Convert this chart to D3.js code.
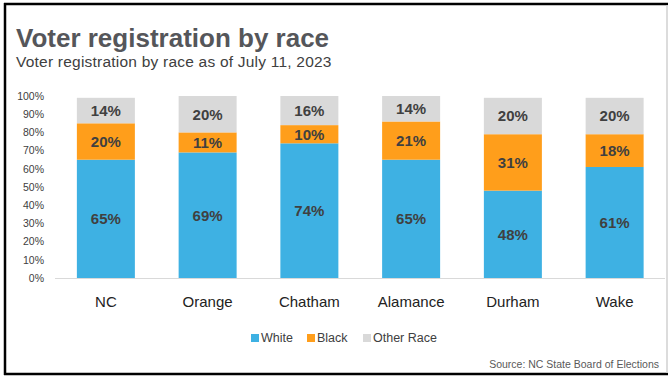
<!DOCTYPE html>
<html><head><meta charset="utf-8">
<script src="https://cdn.jsdelivr.net/npm/d3@7"></script>
<style>
body{margin:0;background:#fff;}
svg{display:block;}
text{font-family:"Liberation Sans",Arial,sans-serif;}
</style></head>
<body><svg id="c" width="670" height="376"></svg>
<script>
const categories = ["NC","Orange","Chatham","Alamance","Durham","Wake"];
const white = [65,69,74,65,48,61];
const black = [20,11,10,21,31,18];
const other = [14,20,16,14,20,20];
const seriesNames = ["White","Black","Other Race"];
const seriesColors = ["#3EB1E3","#FF9E1B","#D9D9D9"];
const yTicks = [0,10,20,30,40,50,60,70,80,90,100];

const svg = d3.select("#c");
// border
svg.append("line").attr("x1",4).attr("x2",668).attr("y1",4).attr("y2",4).attr("stroke","#000").attr("stroke-width",2.5);
svg.append("line").attr("x1",5).attr("x2",5).attr("y1",3).attr("y2",375).attr("stroke","#000").attr("stroke-width",2.5);
svg.append("line").attr("x1",4).attr("x2",668).attr("y1",374).attr("y2",374).attr("stroke","#000").attr("stroke-width",2.5);
svg.append("line").attr("x1",667).attr("x2",667).attr("y1",5).attr("y2",373).attr("stroke","#d0d0d0").attr("stroke-width",1.5);

svg.append("text").attr("x",16).attr("y",47).attr("font-size",26).attr("font-weight","bold")
  .attr("fill","#55565A").text("Voter registration by race");
svg.append("text").attr("x",16).attr("y",67).attr("font-size",15.5).attr("letter-spacing",0.22)
  .attr("fill","#404040").text("Voter registration by race as of July 11, 2023");

const x = d3.scaleBand().domain(categories).range([55,665.5]).paddingInner(0.43).paddingOuter(0.215);
const y = d3.scaleLinear().domain([0,100]).range([278,96]);

const data = categories.map((c,i)=>({cat:c,"White":white[i],"Black":black[i],"Other Race":other[i]}));
const stack = d3.stack().keys(seriesNames)(data);

// y axis
const yAxis = d3.axisLeft(y).tickValues(yTicks).tickFormat(d=>d+"%").tickSize(0).tickPadding(0);
const ga = svg.append("g").attr("transform","translate(44,0)").call(yAxis);
ga.select(".domain").remove();
ga.selectAll("text").attr("font-size",10.5).attr("fill","#404040").attr("font-family","'Liberation Sans',Arial,sans-serif");

stack.forEach((s,si)=>{
  const g = svg.append("g");
  g.selectAll("rect").data(s).join("rect")
    .attr("x",d=>x(d.data.cat)).attr("width",x.bandwidth())
    .attr("y",d=>y(d[1])).attr("height",d=>y(d[0])-y(d[1]))
    .attr("fill",seriesColors[si]);
  g.selectAll("text").data(s).join("text")
    .attr("x",d=>x(d.data.cat)+x.bandwidth()/2)
    .attr("y",d=>(y(d[0])+y(d[1]))/2)
    .attr("dy","0.36em").attr("text-anchor","middle")
    .attr("font-size",15).attr("font-weight","bold").attr("fill","#404040")
    .text(d=>(d[1]-d[0])+"%");
});

// x axis
const xAxis = d3.axisBottom(x).tickSize(0).tickPadding(0);
const gx = svg.append("g").attr("transform","translate(0,278)").call(xAxis);
gx.select(".domain").attr("stroke","#d9d9d9").attr("stroke-width",1.2).attr("d","M55,0.5H665");
gx.selectAll("text").attr("y",29).attr("dy",0).attr("font-size",15).attr("fill","#222")
  .attr("font-family","'Open Sans',sans-serif");

// legend
const legX = [251,307,363];
seriesNames.forEach((n,i)=>{
  svg.append("rect").attr("x",legX[i]).attr("y",334).attr("width",8).attr("height",8).attr("fill",seriesColors[i]);
  svg.append("text").attr("x",legX[i]+10).attr("y",342).attr("font-size",12.5).attr("fill","#404040").text(n);
});

svg.append("text").attr("x",659).attr("y",368).attr("text-anchor","end").attr("font-size",10.5)
  .attr("fill","#595959").text("Source: NC State Board of Elections");
</script></body></html>
